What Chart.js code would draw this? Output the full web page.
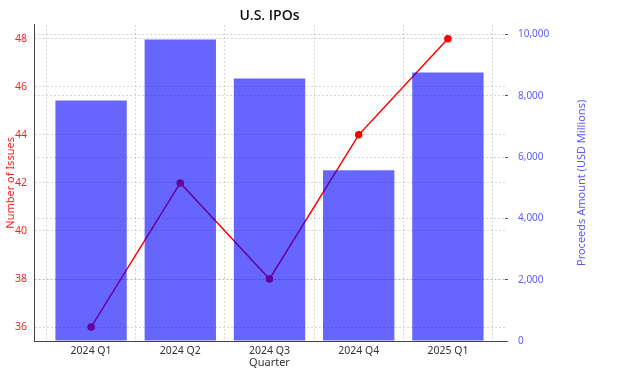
<!DOCTYPE html>
<html>
<head>
<meta charset="utf-8">
<script src="https://cdn.jsdelivr.net/npm/chart.js@4.4.1/dist/chart.umd.min.js"></script>
<style>
  html, body { margin: 0; padding: 0; background: #fff; }
  #wrap { width: 621px; height: 387px; }
</style>
</head>
<body>
<div id="wrap"><canvas id="ipo"></canvas></div>
<script>
const quarters = ['2024 Q1', '2024 Q2', '2024 Q3', '2024 Q4', '2025 Q1'];
const issues = [36, 42, 38, 44, 48];
const proceeds = [7850, 9840, 8570, 5570, 8760];
const issueTicks = [36, 38, 40, 42, 44, 46, 48];
const proceedTicks = [0, 2000, 4000, 6000, 8000, 10000];

const gridColor = 'rgba(150,150,150,0.4)';

// right axis title reads bottom-to-top, so draw it by hand
const rightTitle = {
    id: 'rightTitle',
    afterDraw(chart) {
        const { ctx, chartArea } = chart;
        ctx.save();
        ctx.translate(582, (chartArea.top + chartArea.bottom) / 2);
        ctx.rotate(-Math.PI / 2);
        ctx.font = '11px "Noto Sans"';
        ctx.fillStyle = '#5a5aff';
        ctx.textAlign = 'center';
        ctx.textBaseline = 'middle';
        ctx.fillText('Proceeds Amount (USD Millions)', 0, 0);
        ctx.restore();
    }
};

const ipoChart = new Chart(document.getElementById('ipo'), {
    data: {
        datasets: [{
            type: 'bar',
            data: quarters.map((q, i) => ({ x: i, y: proceeds[i] })),
            backgroundColor: 'rgba(0,0,255,0.6)',
            borderWidth: 0,
            categoryPercentage: 0.8,
            barPercentage: 1,
            yAxisID: 'y1',
            order: 0
        }, {
            type: 'line',
            data: quarters.map((q, i) => ({ x: i, y: issues[i] })),
            borderColor: '#ff0000',
            backgroundColor: '#ff0000',
            borderWidth: 1.5,
            pointRadius: 3,
            pointHoverRadius: 3,
            tension: 0,
            yAxisID: 'y',
            order: 1
        }]
    },
    options: {
        responsive: true,
        maintainAspectRatio: false,
        animation: false,
        layout: { padding: 0 },
        plugins: {
            legend: { display: false },
            tooltip: { enabled: false },
            title: {
                display: true,
                text: 'U.S. IPOs',
                fullSize: false,
                color: '#111',
                font: { family: '"Open Sans"', size: 14, weight: '600' },
                padding: { top: 8, bottom: 0 }
            }
        },
        scales: {
            x: {
                type: 'linear',
                offset: false,
                min: -0.64,
                max: 4.64,
                z: 1,
                afterFit(scale) { scale.height = 46; },
                grid: { color: gridColor, drawTicks: false, lineWidth: 1 },
                border: { color: '#444', dash: [2, 2] },
                afterBuildTicks(scale) { scale.ticks = quarters.map((q, i) => ({ value: i })); },
                ticks: {
                    autoSkip: false,
                    maxRotation: 0,
                    padding: 4,
                    color: '#333',
                    font: { family: '"Noto Sans"', size: 10.5 },
                    callback: (v) => quarters[v]
                },
                title: {
                    display: true,
                    text: 'Quarter',
                    color: '#333',
                    font: { family: '"Noto Sans"', size: 11 },
                    padding: { top: 0, bottom: 18 }
                }
            },
            y: {
                position: 'left',
                min: 35.42,
                max: 48.58,
                z: 1,
                afterFit(scale) { scale.width = 34; },
                grid: { color: gridColor, drawTicks: false },
                border: { color: '#444', dash: [2, 2] },
                afterBuildTicks(scale) { scale.ticks = issueTicks.map(v => ({ value: v })); },
                ticks: {
                    padding: 7,
                    color: '#ff2020',
                    font: { family: '"Noto Sans"', size: 10.5 }
                },
                title: {
                    display: true,
                    text: 'Number of Issues',
                    color: '#ff2020',
                    font: { family: '"Noto Sans"', size: 11 },
                    padding: { top: 4, bottom: 0 }
                }
            },
            y1: {
                position: 'right',
                min: 0,
                max: 10320,
                z: 1,
                afterFit(scale) { scale.width = 116; },
                grid: { color: gridColor, drawTicks: true, tickLength: 3, tickColor: '#555' },
                border: { display: false, dash: [2, 2] },
                afterBuildTicks(scale) { scale.ticks = proceedTicks.map(v => ({ value: v })); },
                ticks: {
                    padding: 10,
                    color: '#5a5aff',
                    font: { family: '"Noto Sans"', size: 10 },
                    callback: (v) => v.toLocaleString('en-US')
                }
            }
        }
    },
    plugins: [rightTitle]
});
</script>
</body>
</html>
